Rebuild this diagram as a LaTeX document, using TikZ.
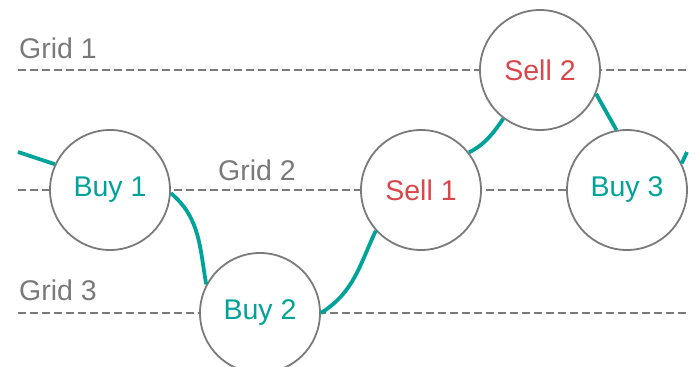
\documentclass[tikz,border=0pt]{standalone}
\usepackage{fontspec}
\setmainfont{Liberation Sans}
\usetikzlibrary{backgrounds}
\definecolor{tealc}{HTML}{00A39A}
\definecolor{redc}{HTML}{D9474B}
\definecolor{grayc}{HTML}{7A7A7A}
\begin{document}
\begin{tikzpicture}[x=1pt,y=1pt,
  stn/.style={circle, draw=grayc, line width=1.8pt, fill=white, minimum size=120pt, inner sep=0pt, font=\fontsize{28.5}{32}\selectfont},
  buy/.style={stn, text=tealc},
  sell/.style={stn, text=redc},
  gridline/.style={grayc, line width=1.8pt, dash pattern=on 8pt off 4pt},
  pricepath/.style={tealc, line width=3.8pt},
  lbl/.style={anchor=base west, text=grayc, inner sep=0pt, font=\fontsize{28.5}{32}\selectfont}]
\useasboundingbox (0,0) rectangle (697,367);
% grid line end points
\coordinate (g1a) at (18,297); \coordinate (g1b) at (687,297);
\coordinate (g2a) at (18,177); \coordinate (g2b) at (687,177);
\coordinate (g3a) at (18,54);  \coordinate (g3b) at (687,54);
\coordinate (s) at (18,215); \coordinate (e) at (687,215);
% nodes
\node[buy]  (b1) at (110,177) {Buy 1};
\node[buy]  (b2) at (260,54)  {Buy 2};
\node[sell] (s1) at (421,177) {Sell 1};
\node[sell] (s2) at (540,297) {Sell 2};
\node[buy]  (b3) at (627,177) {Buy 3};
% labels
\node[lbl] (l1) at (19,308) {Grid 1};
\node[lbl] (l2) at (218,186) {Grid 2};
\node[lbl] (l3) at (19,66) {Grid 3};
\begin{scope}[on background layer]
  \draw[gridline] (g1a) -- (g1b);
  \draw[gridline] (g2a) -- (g2b);
  \draw[gridline] (g3a) -- (g3b);
\end{scope}
% price path
\draw[pricepath] (s) -- (b1.155);
\draw[pricepath] (b1.-3) to[out=-40,in=100] (b2.152);
\draw[pricepath] (b2.0) to[out=32,in=-115] (s1.222);
\draw[pricepath] (s1.38) to[out=28,in=-125] (s2.233);
\draw[pricepath] (s2.-23) -- (b3.100);
\draw[pricepath] (b3.26) -- (e);
\end{tikzpicture}
\end{document}
